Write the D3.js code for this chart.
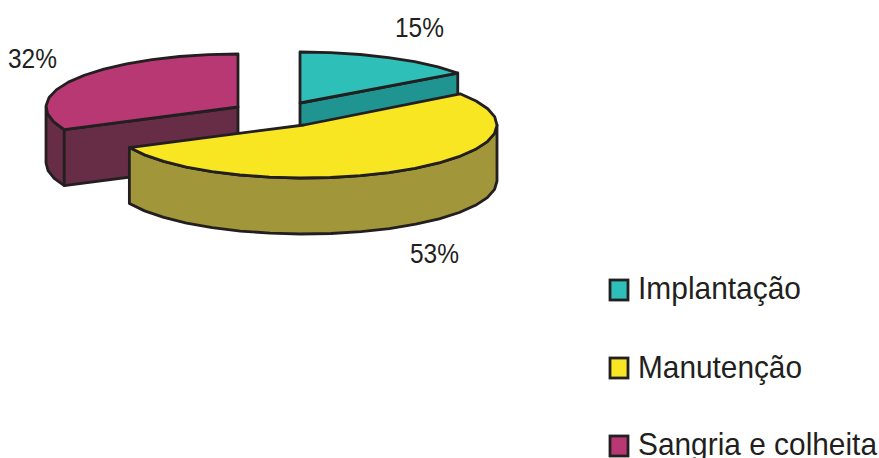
<!DOCTYPE html>
<html>
<head>
<meta charset="utf-8">
<script src="https://cdn.jsdelivr.net/npm/d3@7"></script>
<style>
html,body{margin:0;padding:0;background:#fff;overflow:hidden}
svg{display:block}
text{font-family:"Liberation Sans",Arial,sans-serif;fill:#231f20}
</style>
</head>
<body>
<svg id="c" width="879" height="458"></svg>
<script>
const categories = ["Implantação", "Manutenção", "Sangria e colheita"];
const values = [15, 53, 32];
const pctLabels = ["15%", "53%", "32%"];

const topColors = ["#2fbfb9", "#f9e622", "#b83874"];
const wallColors = ["#1f9490", "#a2963a", "#672c46"];
const ink = "#231f20";

// one exploded ellipse per slice
const geom = [
  {cx: 300, cy: 103, rx: 195, ry: 51},
  {cx: 304, cy: 125, rx: 193, ry: 53},
  {cx: 238, cy: 107, rx: 192, ry: 53}
];
const depth = 56;
const facet = 0.16;
const strokeW = 2.8;
const labelPos = [
  {x: 395, y: 37, w: 49},
  {x: 410, y: 263, w: 49},
  {x: 8, y: 68, w: 49}
];
const legendW = [163, 164, 239];
const legendY = d3.scalePoint().domain(categories).range([290, 446]);

const svg = d3.select("#c");
const slices = d3.pie().sort(null).value(d => d)(values);
const line = d3.line().curve(d3.curveLinear);

function samples(a0, a1) {
  const n = Math.max(1, Math.ceil((a1 - a0) / facet));
  return d3.range(n + 1).map(i => a0 + (a1 - a0) * i / n);
}

function scales(g) {
  return {
    x: d3.scaleLinear().domain([-1, 1]).range([g.cx - g.rx, g.cx + g.rx]),
    y: d3.scaleLinear().domain([-1, 1]).range([g.cy + g.ry, g.cy - g.ry])
  };
}

const HALF = Math.PI / 2;
const order = [2, 0, 1];
order.forEach(i => {
  const s = slices[i], g = geom[i], {x, y} = scales(g);
  const pt = (a, dz = 0) => [x(Math.sin(a)), y(Math.cos(a)) + dz];
  const gEl = svg.append("g");
  const paint = (pts, fill) => gEl.append("path").attr("d", line(pts) + "Z")
    .attr("fill", fill).attr("stroke", ink)
    .attr("stroke-width", strokeW).attr("stroke-linejoin", "round");

  // front-facing part of the rim
  const a0 = Math.max(s.startAngle, HALF), a1 = Math.min(s.endAngle, 3 * HALF);
  if (a1 > a0) {
    const arc = samples(a0, a1);
    paint(arc.map(a => pt(a)).concat(arc.slice().reverse().map(a => pt(a, depth))), wallColors[i]);
  }
  // cut face that looks towards the viewer
  const cut = s.endAngle < Math.PI ? s.endAngle : (s.startAngle > Math.PI ? s.startAngle : null);
  if (cut !== null) {
    const p = pt(cut);
    paint([[x(0), y(0)], p, [p[0], p[1] + depth], [x(0), y(0) + depth]], wallColors[i]);
  }
  // top
  const rim = samples(s.startAngle, s.endAngle).map(a => pt(a));
  paint([[x(0), y(0)], ...rim], topColors[i]);
});

pctLabels.forEach((t, i) => {
  svg.append("text").attr("x", labelPos[i].x).attr("y", labelPos[i].y)
    .attr("font-size", 28).attr("textLength", labelPos[i].w)
    .attr("lengthAdjust", "spacingAndGlyphs").text(t);
});

categories.forEach((c, i) => {
  const yc = legendY(c);
  svg.append("rect").attr("x", 610).attr("y", yc - 10).attr("width", 18).attr("height", 20)
    .attr("fill", topColors[i]).attr("stroke", ink).attr("stroke-width", strokeW);
  svg.append("text").attr("x", 638).attr("y", yc + [9, 10, 9][i])
    .attr("font-size", 32).attr("textLength", legendW[i])
    .attr("lengthAdjust", "spacingAndGlyphs").text(c);
});
</script>
</body>
</html>
